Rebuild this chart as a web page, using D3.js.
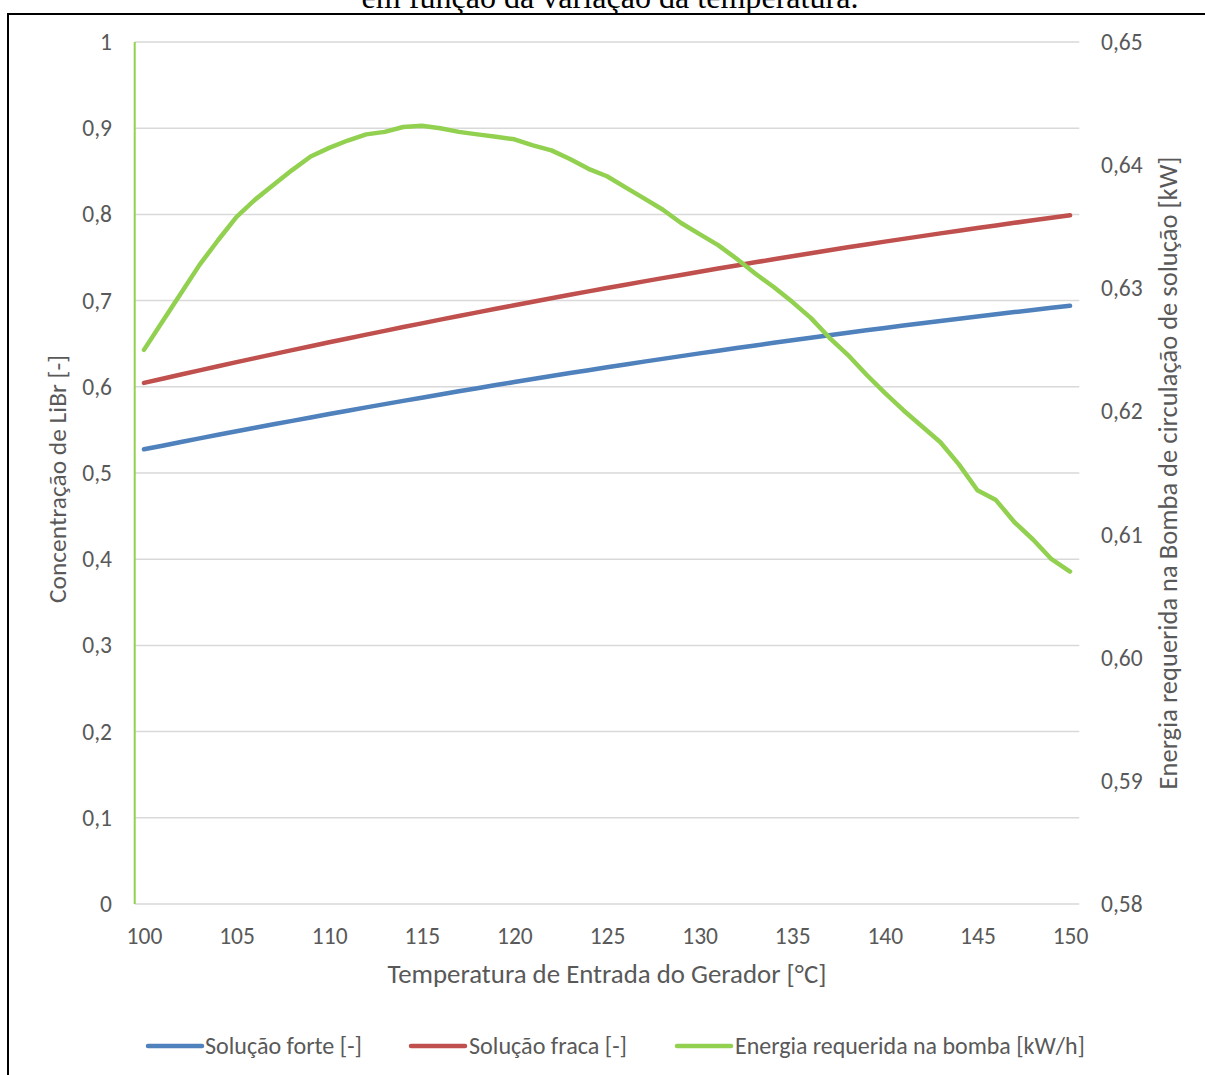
<!DOCTYPE html>
<html>
<head>
<meta charset="utf-8">
<script src="https://cdn.jsdelivr.net/npm/d3@7"></script>
<style>
  html, body { margin: 0; padding: 0; background: #fff; }
  svg { display: block; }
</style>
</head>
<body>
<svg id="chart" width="1205" height="1075"></svg>
<script>
// Generator inlet temperature [°C]
const temperatures = d3.range(100, 151);

// LiBr concentration of the strong solution [-]
const strongSolution = [
  0.5275, 0.5316, 0.5360, 0.5402, 0.5443, 0.5484, 0.5525, 0.5565, 0.5605, 0.5644,
  0.5684, 0.5722, 0.5761, 0.5799, 0.5837, 0.5874, 0.5911, 0.5948, 0.5984, 0.6020,
  0.6055, 0.6090, 0.6125, 0.6159, 0.6193, 0.6226, 0.6259, 0.6292, 0.6324, 0.6356,
  0.6388, 0.6419, 0.6450, 0.6480, 0.6511, 0.6540, 0.6570, 0.6599, 0.6627, 0.6655,
  0.6683, 0.6711, 0.6738, 0.6764, 0.6790, 0.6816, 0.6842, 0.6867, 0.6891, 0.6916,
  0.6940
];

// LiBr concentration of the weak solution [-]
const weakSolution = [
  0.6045, 0.6094, 0.6143, 0.6191, 0.6239, 0.6286, 0.6333, 0.6379, 0.6426, 0.6471,
  0.6516, 0.6561, 0.6605, 0.6649, 0.6693, 0.6736, 0.6779, 0.6821, 0.6863, 0.6905,
  0.6946, 0.6987, 0.7027, 0.7067, 0.7107, 0.7146, 0.7184, 0.7223, 0.7261, 0.7298,
  0.7335, 0.7372, 0.7408, 0.7444, 0.7480, 0.7515, 0.7549, 0.7584, 0.7618, 0.7651,
  0.7684, 0.7716, 0.7748, 0.7780, 0.7811, 0.7842, 0.7872, 0.7902, 0.7932, 0.7961,
  0.7990
];

// Power required by the solution pump [kW] (secondary axis)
const pumpEnergy = [
  0.6250, 0.6273, 0.6296, 0.6319, 0.6339, 0.6358, 0.6372, 0.6384, 0.6396, 0.6407,
  0.6414, 0.6420, 0.6425, 0.6427, 0.6431, 0.6432, 0.6430, 0.6427, 0.6425, 0.6423,
  0.6421, 0.6416, 0.6412, 0.6405, 0.6397, 0.6391, 0.6382, 0.6373, 0.6364, 0.6353,
  0.6344, 0.6335, 0.6324, 0.6312, 0.6301, 0.6289, 0.6276, 0.6260, 0.6246, 0.6230,
  0.6215, 0.6201, 0.6188, 0.6175, 0.6157, 0.6136, 0.6128, 0.6110, 0.6096, 0.6080,
  0.6070
];

const xTickLabels = [100, 105, 110, 115, 120, 125, 130, 135, 140, 145, 150];
const leftTicks = [0, 0.1, 0.2, 0.3, 0.4, 0.5, 0.6, 0.7, 0.8, 0.9, 1];
const rightTicks = [0.58, 0.59, 0.60, 0.61, 0.62, 0.63, 0.64, 0.65];

const seriesNames = ["Solução forte [-]", "Solução fraca [-]", "Energia requerida na bomba [kW/h]"];
const seriesColors = ["#4F81BD", "#C0504D", "#92D050"];

const titleText = "em função da variação da temperatura.";
const xTitle = "Temperatura de Entrada do Gerador [°C]";
const yLeftTitle = "Concentração de LiBr [-]";
const yRightTitle = "Energia requerida na Bomba de circulação de solução [kW]";

// ---------------------------------------------------------------------------
const svg = d3.select("#chart");
const FONT = "Carlito, Calibri, Lato, 'Open Sans', sans-serif";
const TXT = "#595959";
const TICK_SIZE = 23.5;

const plot = { left: 134.7, right: 1079.3, top: 42, bottom: 904 };

const locale = d3.formatLocale({ decimal: ",", thousands: ".", grouping: [3], currency: ["", ""] });
const fmtLeft = locale.format(".1~f");
const fmtRight = locale.format(".2f");

const x = d3.scalePoint().domain(temperatures).range([plot.left, plot.right]).padding(0.5);
const yL = d3.scaleLinear().domain([0, 1]).range([plot.bottom, plot.top]);
const yR = d3.scaleLinear().domain([0.58, 0.65]).range([plot.bottom, plot.top]);

// Scale a text element's font so that it spans the given width
function fitWidth(sel, width) {
  const node = sel.node();
  const fs = parseFloat(sel.attr("font-size"));
  const w = node.getComputedTextLength();
  sel.attr("font-size", (fs * width / w).toFixed(2));
}

// outer frame (partially clipped page box)
svg.append("rect")
  .attr("x", 8).attr("y", 14).attr("width", 1400).attr("height", 1400)
  .attr("fill", "none").attr("stroke", "#000").attr("stroke-width", 2);

// caption line above the frame, clipped by the page top
const title = svg.append("text")
  .attr("x", 610).attr("y", 8)
  .attr("text-anchor", "middle")
  .attr("font-family", "'Liberation Serif', 'Times New Roman', serif")
  .attr("font-size", 30)
  .attr("fill", "#000")
  .text(titleText);
fitWidth(title, 497);

// horizontal gridlines
svg.append("g")
  .selectAll("line")
  .data(leftTicks)
  .join("line")
  .attr("x1", plot.left).attr("x2", plot.right)
  .attr("y1", d => yL(d)).attr("y2", d => yL(d))
  .attr("stroke", "#D9D9D9").attr("stroke-width", 1.5);

// left axis labels
const axisLeft = d3.axisLeft(yL).tickValues(leftTicks).tickFormat(fmtLeft).tickSize(0).tickPadding(0);
const gL = svg.append("g").attr("transform", `translate(112,0)`).call(axisLeft);
gL.select(".domain").remove();
gL.selectAll("text").attr("font-family", FONT).attr("font-size", TICK_SIZE).attr("fill", TXT);

// right axis labels
const axisRight = d3.axisRight(yR).tickValues(rightTicks).tickFormat(fmtRight).tickSize(0).tickPadding(0);
const gR = svg.append("g").attr("transform", `translate(1101,0)`).call(axisRight);
gR.select(".domain").remove();
gR.selectAll("text").attr("font-family", FONT).attr("font-size", TICK_SIZE).attr("fill", TXT);

// bottom axis labels (every 5 °C)
const axisBottom = d3.axisBottom(x).tickValues(xTickLabels).tickSize(0).tickPadding(0);
const gB = svg.append("g").attr("transform", `translate(0,927)`).call(axisBottom);
gB.select(".domain").remove();
gB.selectAll("text").attr("font-family", FONT).attr("font-size", TICK_SIZE).attr("fill", TXT);

// vertical axis line
svg.append("line")
  .attr("x1", plot.left).attr("x2", plot.left)
  .attr("y1", plot.top).attr("y2", plot.bottom)
  .attr("stroke", "#92D050").attr("stroke-width", 2);

// axis titles
const xt = svg.append("text")
  .attr("x", 607).attr("y", 983)
  .attr("text-anchor", "middle")
  .attr("font-family", FONT).attr("font-size", 22).attr("fill", TXT)
  .text(xTitle);
fitWidth(xt, 439);

const ylt = svg.append("text")
  .attr("transform", "translate(66,479) rotate(-90)")
  .attr("text-anchor", "middle")
  .attr("font-family", FONT).attr("font-size", 22).attr("fill", TXT)
  .text(yLeftTitle);
fitWidth(ylt, 248);

const yrt = svg.append("text")
  .attr("transform", "translate(1177,473) rotate(-90)")
  .attr("text-anchor", "middle")
  .attr("font-family", FONT).attr("font-size", 22).attr("fill", TXT)
  .text(yRightTitle);
fitWidth(yrt, 633);

// series lines
const seriesData = [
  { values: strongSolution, y: yL },
  { values: weakSolution, y: yL },
  { values: pumpEnergy, y: yR }
];

seriesData.forEach((s, i) => {
  const line = d3.line()
    .x((d, j) => x(temperatures[j]))
    .y(d => s.y(d));
  svg.append("path")
    .datum(s.values)
    .attr("d", line)
    .attr("fill", "none")
    .attr("stroke", seriesColors[i])
    .attr("stroke-width", 4.5)
    .attr("stroke-linejoin", "round")
    .attr("stroke-linecap", "round");
});

// legend
const legendItems = [
  { lx: 148, tx: 205, w: 157 },
  { lx: 411, tx: 469, w: 158 },
  { lx: 677, tx: 735, w: 350 }
];
const legendY = 1046;
legendItems.forEach((it, i) => {
  svg.append("line")
    .attr("x1", it.lx).attr("x2", it.lx + 54)
    .attr("y1", legendY).attr("y2", legendY)
    .attr("stroke", seriesColors[i]).attr("stroke-width", 4.5)
    .attr("stroke-linecap", "round");
  const t = svg.append("text")
    .attr("x", it.tx).attr("y", legendY)
    .attr("dy", "0.35em")
    .attr("font-family", FONT).attr("font-size", 22).attr("fill", TXT)
    .text(seriesNames[i]);
  fitWidth(t, it.w);
});
</script>
</body>
</html>
